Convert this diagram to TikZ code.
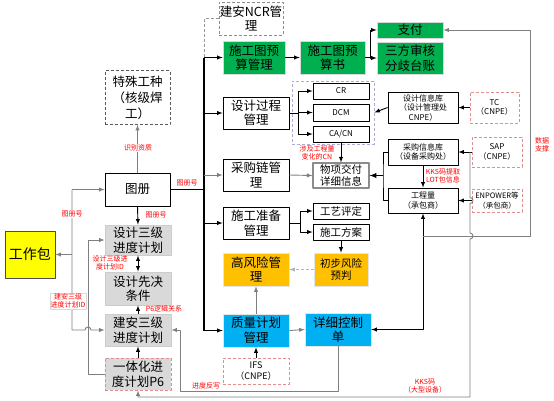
\documentclass[tikz,border=0pt]{standalone}
\usepackage{fontspec}
\newfontfamily\cjk{Noto Sans CJK SC}
\usetikzlibrary{arrows}
\definecolor{pkgyellow}{HTML}{FFFF00}
\definecolor{paygreen}{HTML}{00B050}
\definecolor{riskorange}{HTML}{FFC000}
\definecolor{qcyan}{HTML}{00B0F0}
\definecolor{plangray}{HTML}{D9D9D9}
\definecolor{srcred}{HTML}{E58C8C}
\definecolor{cnpurple}{HTML}{B4A7D6}
\definecolor{linegray}{HTML}{7F7F7F}

\begin{document}
\begin{tikzpicture}[x=1pt,y=-1pt,join=round,
  big/.style={font=\cjk\fontsize{12.5}{14.5}\selectfont},
  mid/.style={font=\cjk\fontsize{10.5}{12}\selectfont},
  small/.style={font=\cjk\fontsize{8}{9.5}\selectfont},
  sz/.style 2 args={minimum width=#1,minimum height=#2},
  wbox/.style={draw=black,line width=0.8pt,fill=white,align=center,inner sep=0pt},
  dbox/.style={draw=black!65,line width=0.8pt,dash pattern=on 3pt off 2pt,fill=white,align=center,inner sep=0pt},
  rbox/.style={draw=srcred,line width=0.8pt,dash pattern=on 3pt off 2pt,fill=white,align=center,inner sep=0pt},
  pbox/.style={draw=black!20,line width=0.8pt,fill=plangray,align=center,inner sep=0pt},
  gbox/.style={draw=black!15,line width=0.6pt,fill=paygreen,align=center,inner sep=0pt},
  obox/.style={draw=black!10,line width=0.6pt,fill=riskorange,align=center,inner sep=0pt},
  cbox/.style={draw=black!10,line width=0.6pt,fill=qcyan,align=center,inner sep=0pt},
  ybox/.style={draw=black!70,line width=0.8pt,fill=pkgyellow,align=center,inner sep=0pt},
  cnbox/.style={draw=cnpurple,line width=0.8pt,dash pattern=on 3pt off 2pt},
  conn/.style={draw=black,line width=0.9pt},
  bus/.style={draw=black,line width=1.2pt},
  arr/.style={conn,-latex},
  garr/.style={draw=linegray,line width=0.9pt,-latex},
  note/.style={text=red,font=\cjk\fontsize{7}{8}\selectfont,align=center,inner sep=0.5pt}]
\useasboundingbox (0,0) rectangle (554,400);

% left column
\node[ybox,sz={50}{47},font=\cjk\fontsize{14}{16}\selectfont] (pkg) at (30,254.5) {工作包};
\node[wbox,big,sz={65}{33}] (atlas) at (137.5,189.5) {图册};
\node[dbox,big,sz={65}{54},font=\cjk\fontsize{12.5}{16}\selectfont] (special) at (137.5,97.5) {特殊工种\\（核级焊\\工）};
\node[pbox,big,sz={66}{30}] (dsn3) at (138,240) {设计三级\\进度计划};
\node[pbox,big,sz={66}{33}] (prereq) at (138,288.5) {设计先决\\条件};
\node[pbox,big,sz={66}{32}] (con3) at (138,330) {建安三级\\进度计划};
\node[pbox,big,sz={66}{32},draw=srcred,dash pattern=on 3pt off 2pt] (p6) at (138,374) {一体化进\\度计划P6};

% middle column
\node[dbox,big,sz={64}{33},draw=black!45] (ncr) at (251,18.5) {建安NCR管\\理};
\node[gbox,big,sz={62}{33}] (budget) at (254,57.5) {施工图预\\算管理};
\node[gbox,big,sz={65}{33}] (bbook) at (332.5,57.5) {施工图预\\算书};
\node[gbox,big,sz={66}{16}] (pay) at (410,30) {支付};
\node[gbox,big,sz={66}{32}] (audit) at (410,58) {三方审核\\分歧台账};
\node[wbox,big,sz={66}{32}] (dproc) at (256,113) {设计过程\\管理};
\node[wbox,big,sz={66}{32}] (proc) at (256,175) {采购链管\\理};
\node[wbox,big,sz={66}{32}] (prep) at (256,223) {施工准备\\管理};
\node[obox,big,sz={66}{33}] (risk) at (256,269.5) {高风险管\\理};
\node[cbox,big,sz={66}{33}] (qplan) at (256,330.5) {质量计划\\管理};
\node[rbox,small,sz={66}{26},font=\cjk\fontsize{9}{11}\selectfont] (ifs) at (256,371) {IFS\\（CNPE）};
\node[cbox,big,sz={66}{33}] (ctrl) at (338,329.5) {详细控制\\单};

% right part
\node[cnbox,sz={82}{63}] (chg) at (333,112.5) {};
\node[wbox,small,sz={56}{16}] (cr) at (341,91) {CR};
\node[wbox,small,sz={56}{17}] (dcm) at (341,112.5) {DCM};
\node[wbox,small,sz={56}{16}] (cacn) at (341,134) {CA/CN};
\node[wbox,mid,sz={56}{25},draw=black!45,line width=1.1pt] (item) at (341,175.5) {物项交付\\详细信息};
\node[wbox,small,sz={70}{31}] (dinfo) at (423,107.5) {设计信息库\\（设计管理处\\CNPE）};
\node[rbox,small,sz={49}{31}] (tc) at (494.5,107.5) {TC\\（CNPE）};
\node[wbox,small,sz={70}{26}] (pinfo) at (423,152) {采购信息库\\（设备采购处）};
\node[rbox,small,sz={50}{30}] (sap) at (497,152) {SAP\\（CNPE）};
\node[wbox,small,sz={70}{25}] (qty) at (423,200.5) {工程量\\（承包商）};
\node[rbox,sz={50}{23},font=\cjk\fontsize{7.5}{9.5}\selectfont] (enp) at (497,200.5) {ENPOWER等\\（承包商）};
\node[wbox,mid,sz={56}{16}] (pqr) at (341,211) {工艺评定};
\node[wbox,mid,sz={56}{16}] (scheme) at (341,232) {施工方案};
\node[obox,mid,sz={54}{33}] (prisk) at (341,269.5) {初步风险\\预判};

% bus
\coordinate (bt) at (204,57.5);
\coordinate (bj) at (204,189.5);
\draw[draw=black!40,line width=0.9pt,dash pattern=on 3pt off 2pt] (ncr.west) -| (bt);
\draw[bus] (bt) -- (qplan.west -| bt);
\draw[bus] (atlas.east) -- (bj);
\draw[arr] (bt) -- (budget.west);
\draw[arr] (dproc.west -| bt) -- (dproc.west);
\draw[garr] (proc.west -| bt) -- (proc.west);
\draw[arr] (prep.west -| bt) -- (prep.west);
\draw[arr] (qplan.west -| bt) -- (qplan.west);

% left lines
\coordinate (wt) at (72,189.5);
\coordinate (wb) at (72,330);
\coordinate (gl) at (88,240);
\draw[garr] (wt) -- (atlas.west);
\draw[garr] (wt) -- (wb) -- (85,330) arc[start angle=180,end angle=360,radius=3] -- (con3.west);
\draw[garr] (pkg.east -| wt) -- (pkg.east);
\draw[garr] (p6.west) -| (gl) -- (dsn3.west);
\draw[garr] (atlas.north) -- (special.south);
\draw[arr] (atlas.south) -- (dsn3.north);
\draw[arr,latex-latex] (dsn3.south) -- (prereq.north);
\draw[arr] (con3.north) -- (prereq.south);
\draw[arr] (p6.north) -- (con3.south);

% budget and payment
\coordinate (bf) at (370,57.5);
\draw[arr] (budget.east) -- (bbook.west);
\draw[conn] (bbook.east) -- (bf);
\draw[arr] (bf) |- (pay.west);
\draw[arr] (bf) |- (audit.west);

% design
\coordinate (df) at (298,113);
\draw[conn] (dproc.east) -- (df);
\draw[arr] (df) |- (cr.west);
\draw[arr] (df) |- (dcm.west);
\draw[arr] (df) |- (cacn.west);
\draw[arr] (cacn.south) -- (item.north);
\draw[arr] (dinfo.west) -- (chg.east);
\draw[arr] (tc.west) -- (dinfo.east);

% procurement
\coordinate (ij) at (383,175.5);
\draw[garr] (proc.east) -- (item.west);
\draw[conn] (pinfo.west) -| (ij) |- (qty.west);
\draw[arr,line width=1.3pt] (ij) -- (item.east);
\draw[arr] (sap.west) -- (pinfo.east);
\draw[arr] (pinfo.south) -- (qty.north);
\draw[arr] (enp.west) -- (qty.east);

% preparation
\coordinate (pf) at (300,223);
\draw[conn] (prep.east) -- (pf);
\draw[arr] (pf) |- (pqr.west);
\draw[arr] (pf) |- (scheme.west);
\draw[arr] (scheme.south) -- (prisk.north);
\draw[garr,draw=black!30,dash pattern=on 3pt off 2pt] (prisk.west) -- (risk.east);

% quality
\draw[garr] (qplan.north) -- (risk.south);
\draw[arr] (ifs.north) -- (qplan.south);
\draw[garr] (qplan.east) -- (ctrl.west);
\draw[arr,latex-latex] (ctrl.east) -| (qty.south);

% loops
\coordinate (dj) at (423,236);
\coordinate (dr) at (530,236);
\coordinate (sj) at (470,152);
\coordinate (rb) at (180,391);
\draw[garr] (dj) -- (dr) |- (pay.east);
\draw[garr] (sj) -- (470,197.5) arc[start angle=-90,end angle=90,radius=3] -- (470,233) arc[start angle=-90,end angle=90,radius=3] -- (470,397) -| (p6.south);
\draw[garr] (ctrl.south) |- (rb) |- (con3.east);

% labels
\node[note,fill=white] (lq) at (138,148) {识别资质};
\node[note] (lbus) at (187,183) {图册号};
\node[note] (ldown) at (156,215) {图册号};
\node[note,fill=white] (lleft) at (72,214) {图册号};
\node[note] (ldid) at (110,263) {设计三级进\\度计划ID};
\node[note,fill=white,draw=black!15] (lcid) at (68,301) {建安三级\\进度计划ID};
\node[note] (llogic) at (164,309) {P6逻辑关系};
\node[note] (lback) at (206,386) {进度反写};
\node[note] (lkks) at (425,386) {KKS码\\（大型设备）};
\node[note] (lcn) at (317,153) {涉及工程量\\变化的CN};
\node[note] (llot) at (443,176) {KKS码提取\\LOT包信息};
\node[note] (ldata) at (542,145) {数据\\支撑};
\end{tikzpicture}
\end{document}
